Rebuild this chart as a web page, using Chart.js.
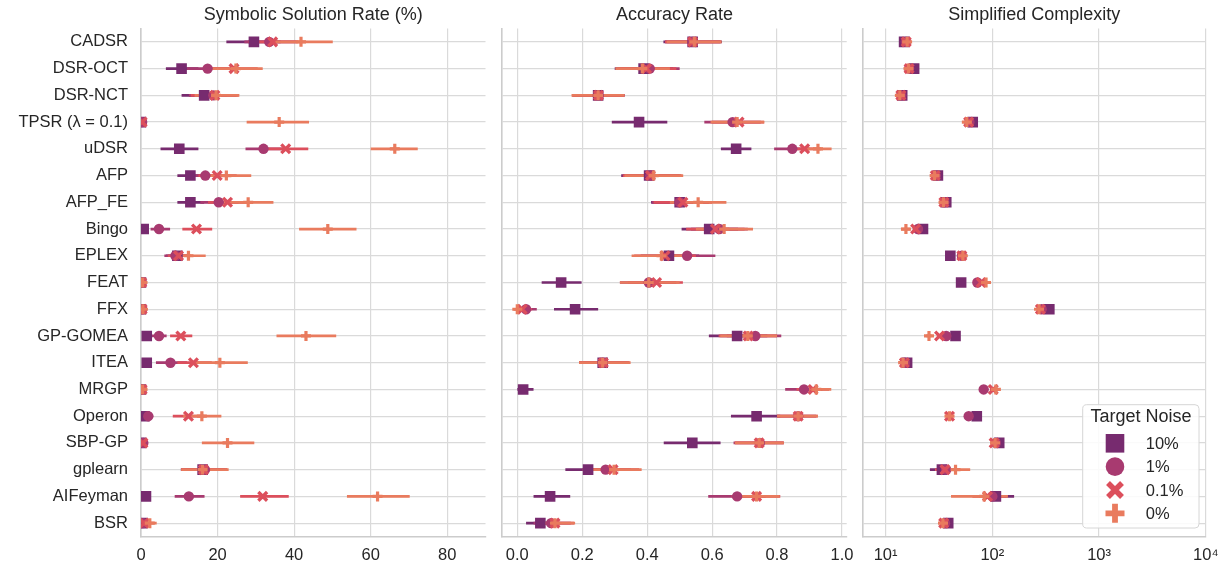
<!DOCTYPE html>
<html lang="en">
<head>
<meta charset="UTF-8">
<title>Target noise comparison</title>
<script src="https://cdn.jsdelivr.net/npm/chart.js"></script>
<style>
  body { margin: 0; background: #fff; }
  #wrap { position: relative; width: 1228px; height: 571px; }
  canvas { position: absolute; top: 0; }
</style>
</head>
<body>
<div id="wrap">
  <canvas id="solChart" width="490" height="571" style="left:0px"></canvas>
  <canvas id="accChart" width="400" height="571" style="left:470px"></canvas>
  <canvas id="cmpChart" width="398" height="571" style="left:830px"></canvas>
</div>
<script>
// methods, top to bottom
const methods = ['CADSR', 'DSR-OCT', 'DSR-NCT', 'TPSR (λ = 0.1)', 'uDSR', 'AFP', 'AFP_FE', 'Bingo', 'EPLEX', 'FEAT',
  'FFX', 'GP-GOMEA', 'ITEA', 'MRGP', 'Operon', 'SBP-GP', 'gplearn', 'AIFeyman', 'BSR'];
const noiseLabels = ['10%', '1%', '0.1%', '0%'];
const noiseColors = ['#772b6f', '#a83a70', '#dc4f5c', '#e97b5e'];

// Symbolic solution rate (%)
const sol10   = [29.5, 10.6, 16.5, 0, 10.0, 12.9, 12.9, 0.7, 9.5, 0, 0, 1.5, 1.5, 0, 0.9, 0, 16.1, 1.3, 0.3];
const sol10Lo = [22.3, 6.5, 10.6, 0, 5.1, 9.5, 9.5, 0, 6.5, 0, 0, 0.3, 0.3, 0, 0, 0, 10.4, 0.2, 0];
const sol10Hi = [36.5, 15.0, 22.5, 0.6, 15.0, 16.5, 16.5, 1.6, 12.5, 0.5, 0.5, 2.8, 2.8, 0.4, 1.8, 0.4, 22.0, 2.5, 0.9];
const sol1    = [33.5, 17.4, 18.9, 0.3, 32.0, 16.8, 20.3, 4.7, 9.0, 0.2, 0.3, 4.7, 7.7, 0.2, 1.9, 0.6, 16.7, 12.5, 0.5];
const sol1Lo  = [27.0, 12.0, 12.5, 0, 27.3, 12.5, 15.5, 2.5, 6.1, 0, 0, 2.8, 3.9, 0, 0.8, 0, 11.0, 8.8, 0];
const sol1Hi  = [40.5, 23.0, 25.0, 0.9, 37.5, 21.5, 25.5, 7.6, 12.0, 0.6, 0.8, 6.7, 12.0, 0.6, 3.2, 1.4, 22.5, 16.6, 1.3];
const sol01   = [34.4, 24.3, 19.3, 0.3, 37.8, 19.9, 22.6, 14.5, 9.8, 0.2, 0.3, 10.4, 13.7, 0.3, 12.4, 0.5, 16.3, 31.8, 0.8];
const sol01Lo = [28.0, 18.0, 13.0, 0, 32.0, 15.0, 17.5, 10.8, 7.0, 0, 0, 7.6, 9.5, 0, 8.3, 0, 10.5, 25.9, 0];
const sol01Hi = [41.0, 30.5, 25.5, 0.9, 43.7, 25.0, 28.0, 18.6, 13.0, 0.6, 0.8, 13.4, 18.5, 0.8, 16.5, 1.2, 22.5, 38.6, 2.0];
const sol0    = [41.8, 24.8, 19.6, 36.1, 66.3, 22.3, 28.0, 48.8, 12.4, 0.4, 0.5, 43.1, 20.6, 0.4, 15.9, 22.6, 16.1, 61.8, 2.3];
const sol0Lo  = [34.0, 18.0, 14.0, 27.6, 60.0, 16.0, 21.5, 41.3, 8.0, 0, 0, 35.4, 14.0, 0, 11.0, 15.9, 10.5, 53.8, 0.5];
const sol0Hi  = [50.1, 31.8, 25.7, 43.9, 72.3, 28.8, 34.6, 56.3, 16.9, 1.0, 1.2, 51.0, 27.9, 0.9, 21.0, 29.6, 22.9, 70.2, 4.1];

// Accuracy rate
const acc10   = [0.540, 0.389, 0.249, 0.375, 0.674, 0.406, 0.500, 0.591, 0.467, 0.135, 0.178, 0.677, 0.263, 0.018, 0.737, 0.539, 0.218, 0.101, 0.071];
const acc10Lo = [0.450, 0.300, 0.170, 0.291, 0.627, 0.320, 0.412, 0.506, 0.380, 0.075, 0.113, 0.590, 0.190, 0.000, 0.658, 0.451, 0.148, 0.050, 0.027];
const acc10Hi = [0.630, 0.480, 0.330, 0.462, 0.721, 0.500, 0.590, 0.680, 0.560, 0.198, 0.249, 0.770, 0.340, 0.050, 0.810, 0.626, 0.290, 0.163, 0.120];
const acc1    = [0.540, 0.408, 0.250, 0.663, 0.847, 0.410, 0.500, 0.622, 0.523, 0.405, 0.027, 0.733, 0.263, 0.883, 0.865, 0.747, 0.272, 0.677, 0.104];
const acc1Lo  = [0.455, 0.320, 0.170, 0.576, 0.791, 0.325, 0.415, 0.535, 0.435, 0.316, 0.000, 0.645, 0.190, 0.825, 0.800, 0.666, 0.200, 0.588, 0.050];
const acc1Hi  = [0.625, 0.500, 0.330, 0.750, 0.900, 0.505, 0.590, 0.710, 0.610, 0.490, 0.060, 0.813, 0.345, 0.940, 0.920, 0.821, 0.350, 0.765, 0.165];
const acc01   = [0.540, 0.398, 0.250, 0.683, 0.885, 0.410, 0.510, 0.610, 0.455, 0.429, 0.015, 0.711, 0.265, 0.911, 0.865, 0.745, 0.295, 0.737, 0.116];
const acc01Lo = [0.455, 0.310, 0.170, 0.600, 0.835, 0.325, 0.420, 0.520, 0.360, 0.340, -0.010, 0.620, 0.190, 0.860, 0.800, 0.670, 0.220, 0.660, 0.060];
const acc01Hi = [0.628, 0.490, 0.330, 0.760, 0.935, 0.505, 0.600, 0.700, 0.550, 0.510, 0.045, 0.800, 0.345, 0.960, 0.925, 0.820, 0.375, 0.810, 0.175];
const acc0    = [0.545, 0.385, 0.249, 0.677, 0.926, 0.420, 0.557, 0.637, 0.444, 0.405, 0.000, 0.710, 0.263, 0.921, 0.865, 0.745, 0.298, 0.737, 0.116];
const acc0Lo  = [0.460, 0.302, 0.167, 0.595, 0.880, 0.330, 0.470, 0.550, 0.352, 0.316, -0.012, 0.625, 0.190, 0.870, 0.800, 0.670, 0.220, 0.665, 0.060];
const acc0Hi  = [0.629, 0.470, 0.330, 0.761, 0.968, 0.511, 0.644, 0.726, 0.535, 0.500, 0.030, 0.800, 0.349, 0.967, 0.926, 0.821, 0.383, 0.808, 0.178];

// Simplified complexity (null = not reported)
const cmp10   = [14.9, 18.5, 14.3, 65.5, null, 30.9, 37.0, 22.4, 40.4, 51.0, 342, 45.2, 15.9, null, 71.5, 116, 33.7, 108, 38.6];
const cmp10Lo = [14.0, 17.4, 13.5, 62.0, null, 29.2, 35.0, 21.2, 38.5, 48.5, 325, 42.5, 15.0, null, 67.0, 109, 26.0, 80.0, 36.5];
const cmp10Hi = [15.8, 19.6, 15.1, 69.0, null, 32.7, 39.0, 23.7, 42.5, 53.5, 360, 48.0, 16.8, null, 76.0, 124, 42.0, 160, 40.8];
const cmp1    = [15.5, 16.6, 14.0, 61.0, null, 29.5, 35.5, 20.1, 51.8, 72.4, 290, 37.0, 15.2, 83.0, 60.0, 108, 37.0, 100, 36.0];
const cmp1Lo  = [14.6, 15.7, 13.2, 58.0, null, 27.9, 33.6, 19.0, 49.0, 68.5, 275, 34.8, 14.4, 76.0, 56.5, 101, 30.0, 75.0, 34.0];
const cmp1Hi  = [16.4, 17.5, 14.8, 64.0, null, 31.2, 37.5, 21.3, 54.8, 76.5, 306, 39.3, 16.0, 90.0, 63.7, 115, 45.0, 135, 38.0];
const cmp01   = [15.6, 16.6, 13.9, 60.0, null, 29.2, 35.2, 19.1, 51.8, 78.5, 282, 32.0, 15.0, 102, 39.7, 104, 36.0, 90.0, 35.0];
const cmp01Lo = [14.7, 15.7, 13.1, 57.0, null, 27.6, 33.3, 18.0, 49.0, 74.0, 267, 30.2, 14.2, 95.0, 37.5, 97.0, 29.0, 65.0, 33.0];
const cmp01Hi = [16.5, 17.5, 14.7, 63.0, null, 30.9, 37.2, 20.2, 54.8, 83.0, 298, 33.9, 15.8, 109, 42.0, 111, 44.0, 125, 37.0];
const cmp0    = [15.9, 16.4, 13.6, 57.7, null, 28.8, 34.9, 15.5, 52.9, 87.3, 274, 25.5, 14.6, 108, 39.7, 106, 45.2, 84.0, 34.5];
const cmp0Lo  = [15.0, 15.5, 12.5, 54.5, null, 27.2, 33.0, 14.0, 50.0, 82.5, 259, 24.0, 13.8, 101, 37.5, 99.0, 36.0, 41.0, 32.6];
const cmp0Hi  = [16.8, 17.3, 14.6, 61.0, null, 30.5, 36.9, 17.0, 55.9, 92.0, 290, 27.0, 15.4, 116, 42.0, 113, 62.0, 140, 36.5];

// tick positions
const solTicks = [0, 20, 40, 60, 80];
const accTicks = [0, 0.2, 0.4, 0.6, 0.8, 1.0];
const cmpTicks = [10, 100, 1000, 10000];

Chart.defaults.font.family = '"Liberation Sans", Arial, sans-serif';
Chart.defaults.font.size = 16.5;
Chart.defaults.color = '#262626';

const markerStyles = [
  { pointStyle: 'rect', pointRadius: 7.5, pointBorderWidth: 0 },
  { pointStyle: 'circle', pointRadius: 5.2, pointBorderWidth: 0 },
  { pointStyle: 'crossRot', pointRadius: 6.2, pointBorderWidth: 3.3 },
  { pointStyle: 'cross', pointRadius: 5, pointBorderWidth: 3.2 }
];

function buildDatasets(means, los, his) {
  const sets = [];
  means.forEach((mean, k) => {
    const bars = [];
    const pts = [];
    mean.forEach((v, i) => {
      if (v === null) return;
      bars.push({ x: los[k][i], y: i }, { x: his[k][i], y: i }, { x: null, y: null });
      pts.push({ x: v, y: i });
    });
    // confidence interval lines, under every marker
    sets.push({
      label: noiseLabels[k] + ' ci',
      data: bars,
      showLine: true,
      spanGaps: false,
      borderColor: noiseColors[k],
      borderWidth: 2.7,
      borderCapStyle: 'butt',
      pointRadius: 0,
      pointHoverRadius: 0,
      order: 8 - k
    });
    sets.push(Object.assign({
      label: noiseLabels[k],
      data: pts,
      showLine: false,
      pointBackgroundColor: noiseColors[k],
      pointBorderColor: noiseColors[k],
      order: 4 - k
    }, markerStyles[k]));
  });
  return sets;
}

const gridColor = '#dadada';
const spineColor = '#cccccc';

function makeChart(id, title, xScale, sets, yWidth, padRight, showNames, plugins) {
  return new Chart(document.getElementById(id), {
    type: 'scatter',
    data: { datasets: sets },
    plugins: plugins || [],
    options: {
      responsive: false,
      animation: false,
      events: [],
      layout: { autoPadding: false, padding: { left: 0, right: padRight, top: 0, bottom: 0 } },
      plugins: {
        legend: { display: false },
        tooltip: { enabled: false },
        title: {
          display: true,
          text: title,
          fullSize: false,
          color: '#262626',
          font: { size: 18, weight: 'normal' },
          padding: { top: 3.9, bottom: 3.0 }
        }
      },
      scales: {
        x: Object.assign({
          grid: { color: gridColor, lineWidth: 1.2, drawTicks: false },
          border: { color: spineColor, width: 1.6 },
          afterFit: (s) => { s.height = 34.5; }
        }, xScale),
        y: {
          type: 'linear',
          reverse: true,
          min: -0.5,
          max: 18.5,
          afterBuildTicks: (s) => { s.ticks = methods.map((m, i) => ({ value: i })); },
          ticks: {
            display: showNames,
            autoSkip: false,
            padding: 13,
            color: '#262626',
            callback: (v) => methods[v]
          },
          grid: { color: gridColor, lineWidth: 1.2, drawTicks: false },
          border: { color: spineColor, width: 1.6 },
          afterFit: (s) => { s.width = yWidth; }
        }
      }
    }
  });
}

function xTicks(values, fmt) {
  return {
    afterBuildTicks: (s) => { s.ticks = values.map(v => ({ value: v })); },
    ticks: { autoSkip: false, maxRotation: 0, padding: 9.5, color: '#262626', callback: fmt }
  };
}

// legend drawn inside the complexity panel
const noiseLegend = {
  id: 'noiseLegend',
  afterDraw(chart) {
    const ctx = chart.ctx;
    ctx.save();
    ctx.beginPath();
    if (ctx.roundRect) ctx.roundRect(252.7, 404.7, 116.3, 123.3, 4);
    else ctx.rect(252.7, 404.7, 116.3, 123.3);
    ctx.fillStyle = 'rgba(255,255,255,0.85)';
    ctx.fill();
    ctx.strokeStyle = '#d6d6d6';
    ctx.lineWidth = 1;
    ctx.stroke();

    ctx.fillStyle = '#262626';
    ctx.textBaseline = 'middle';
    ctx.textAlign = 'center';
    ctx.font = '18px "Liberation Sans", Arial, sans-serif';
    ctx.fillText('Target Noise', 311, 417.5);

    noiseLabels.forEach((lab, k) => {
      const y = 443.3 + k * 23.35;
      const x = 285;
      ctx.fillStyle = noiseColors[k];
      ctx.strokeStyle = noiseColors[k];
      ctx.beginPath();
      if (k === 0) {
        ctx.fillRect(x - 9.3, y - 9.3, 18.6, 18.6);
      } else if (k === 1) {
        ctx.arc(x, y, 9.3, 0, Math.PI * 2);
        ctx.fill();
      } else if (k === 2) {
        ctx.lineWidth = 5.5;
        ctx.moveTo(x - 7, y - 7); ctx.lineTo(x + 7, y + 7);
        ctx.moveTo(x + 7, y - 7); ctx.lineTo(x - 7, y + 7);
        ctx.stroke();
      } else {
        ctx.lineWidth = 5.8;
        ctx.moveTo(x - 9.5, y); ctx.lineTo(x + 9.5, y);
        ctx.moveTo(x, y - 9.5); ctx.lineTo(x, y + 9.5);
        ctx.stroke();
      }
      ctx.fillStyle = '#262626';
      ctx.textAlign = 'left';
      ctx.font = '16.5px "Liberation Sans", Arial, sans-serif';
      ctx.fillText(lab, 315.7, y + 1);
    });
    ctx.restore();
  }
};

const supLabels = { 10: '10¹', 100: '10²', 1000: '10³', 10000: '10⁴' };

makeChart('solChart', 'Symbolic Solution Rate (%)',
  Object.assign({ type: 'linear', min: 0, max: 90 }, xTicks(solTicks, v => String(v))),
  buildDatasets([sol10, sol1, sol01, sol0], [sol10Lo, sol1Lo, sol01Lo, sol0Lo], [sol10Hi, sol1Hi, sol01Hi, sol0Hi]),
  141, 4.5, true);

makeChart('accChart', 'Accuracy Rate',
  Object.assign({ type: 'linear', min: -0.0462, max: 1.0145 }, xTicks(accTicks, v => Number(v).toFixed(1))),
  buildDatasets([acc10, acc1, acc01, acc0], [acc10Lo, acc1Lo, acc01Lo, acc0Lo], [acc10Hi, acc1Hi, acc01Hi, acc0Hi]),
  32.3, 23.3, false);

makeChart('cmpChart', 'Simplified Complexity',
  Object.assign({ type: 'logarithmic', min: 6.1, max: 10000 }, xTicks(cmpTicks, v => supLabels[v] || '')),
  buildDatasets([cmp10, cmp1, cmp01, cmp0], [cmp10Lo, cmp1Lo, cmp01Lo, cmp0Lo], [cmp10Hi, cmp1Hi, cmp01Hi, cmp0Hi]),
  32.7, 20.7, false, [noiseLegend]);
</script>
</body>
</html>
